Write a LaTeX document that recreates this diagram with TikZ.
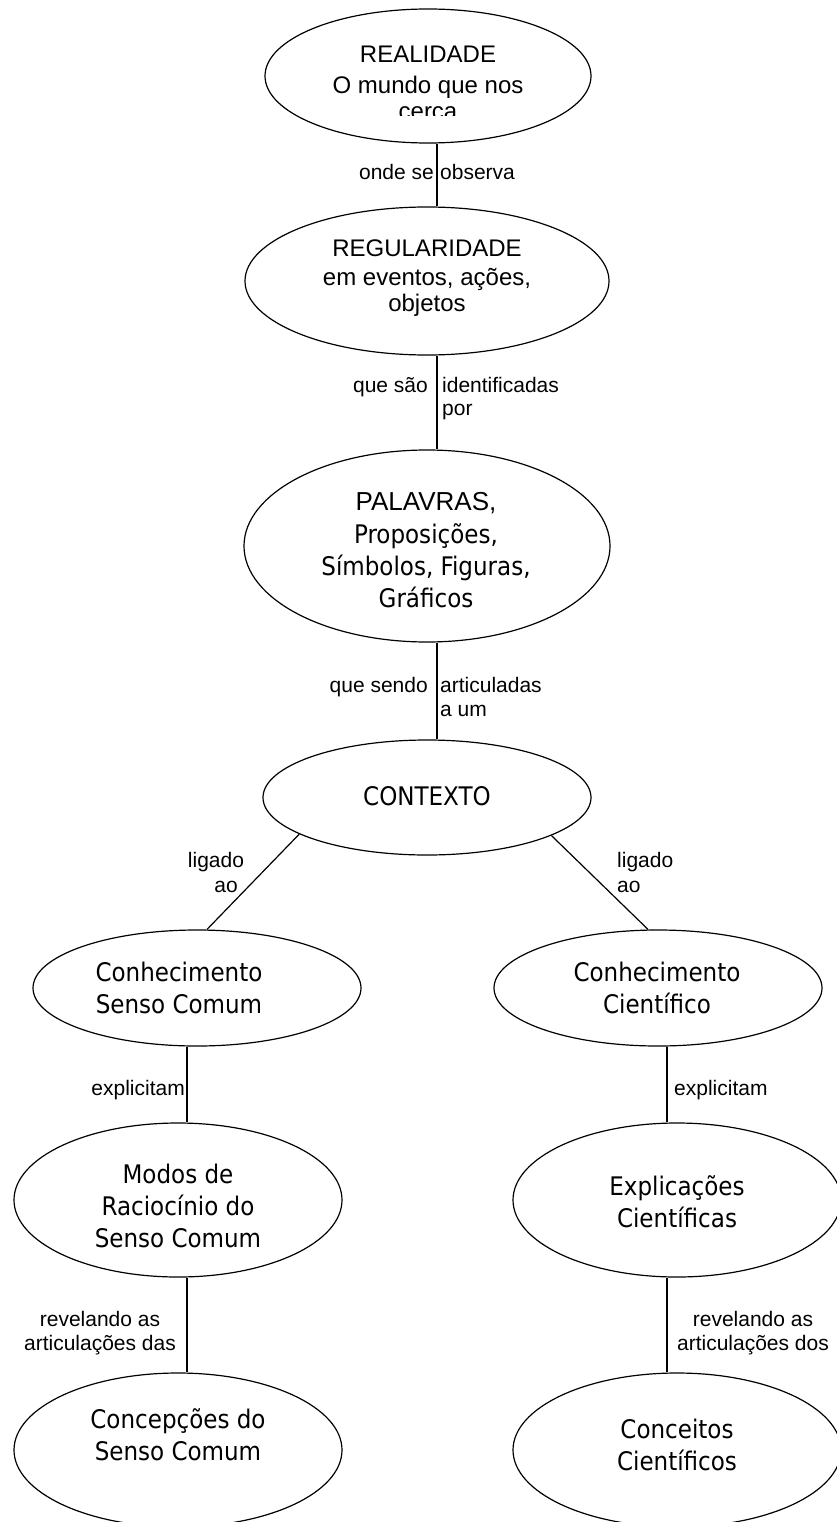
\documentclass[tikz,border=0pt]{standalone}
\usepackage{fontspec}
\setmainfont{Liberation Sans}
\newfontfamily\tahfont{DejaVu Sans Condensed}
\usetikzlibrary{shapes.geometric}
\begin{document}
\begin{tikzpicture}[x=1pt,y=-1pt,
  ell/.style={draw,ellipse,line width=1.2pt,inner sep=0pt},
  con/.style={line width=1.2pt},
  lab/.style={font=\fontsize{21}{24}\selectfont,inner sep=0pt},
  big/.style={font=\fontsize{24}{27}\selectfont,inner sep=0pt,anchor=base},
  tah/.style={font=\tahfont\fontsize{25.6}{32}\selectfont,inner sep=0pt,anchor=base}]
\useasboundingbox (0,0) rectangle (837,1522);

% ellipses
\node[ell,minimum width=326pt,minimum height=134pt] (real) at (428,76) {};
\node[ell,minimum width=364pt,minimum height=148pt] (regu) at (427,281) {};
\node[ell,minimum width=366pt,minimum height=192pt] (pala) at (427,546) {};
\node[ell,minimum width=328pt,minimum height=115pt] (cont) at (427,797.5) {};
\node[ell,minimum width=328pt,minimum height=116pt] (csc) at (197,988) {};
\node[ell,minimum width=328pt,minimum height=116pt] (cc) at (658,988) {};
\node[ell,minimum width=328pt,minimum height=154pt] (modos) at (178,1200) {};
\node[ell,minimum width=328pt,minimum height=154pt] (concep) at (178,1450) {};
\node[ell,minimum width=328pt,minimum height=154pt] (expl) at (677,1200) {};
\node[ell,minimum width=328pt,minimum height=154pt] (conc) at (677,1450) {};

% texts in ellipses
\node[big] (t1a) at (428,63) {REALIDADE};
\node[big] (t1b) at (428,94) {O mundo que nos};
\begin{scope}
\clip (300,0) rectangle (560,116);
\node[big] (t1c) at (428,120) {cerca};
\end{scope}
\node[big] (t2a) at (427,257) {REGULARIDADE};
\node[big] (t2b) at (427,285) {em eventos, ações,};
\node[big] (t2c) at (427,311) {objetos};
\node[big,font=\fontsize{26}{30}\selectfont] (t3a) at (426,510) {PALAVRAS,};
\node[tah] (t3b) at (426,543) {Proposições,};
\node[tah] (t3c) at (426,575) {Símbolos, Figuras,};
\node[tah] (t3d) at (426,607) {Gráficos};
\node[tah] (t4) at (427,805) {CONTEXTO};
\node[tah] (t5a) at (179,981) {Conhecimento};
\node[tah] (t5b) at (179,1013) {Senso Comum};
\node[tah] (t6a) at (657,981) {Conhecimento};
\node[tah] (t6b) at (657,1013) {Científico};
\node[tah] (t7a) at (178,1183) {Modos de};
\node[tah] (t7b) at (178,1215) {Raciocínio do};
\node[tah] (t7c) at (178,1247) {Senso Comum};
\node[tah] (t8a) at (178,1428) {Concepções do};
\node[tah] (t8b) at (178,1460) {Senso Comum};
\node[tah] (t9a) at (677,1195) {Explicações};
\node[tah] (t9b) at (677,1227) {Científicas};
\node[tah] (t10a) at (677,1438) {Conceitos};
\node[tah] (t10b) at (677,1470) {Científicos};

% connectors
\draw[con] ([xshift=9]real.south) -- ([xshift=10]regu.north);
\draw[con] ([xshift=10]regu.south) -- ([xshift=10]pala.north);
\draw[con] ([xshift=10]pala.south) -- ([xshift=10]cont.north);
\draw[con] (cont.196.5) -- ([xshift=10]csc.north);
\draw[con] (cont.343.5) -- ([xshift=-10]cc.north);
\draw[con] ([xshift=-10]csc.south) -- ([xshift=9]modos.north);
\draw[con] ([xshift=9]modos.south) -- ([xshift=9]concep.north);
\draw[con] ([xshift=9]cc.south) -- ([xshift=-10]expl.north);
\draw[con] ([xshift=-10]expl.south) -- ([xshift=-10]conc.north);

% labels
\node[lab,anchor=base east] (l1a) at (434,180) {onde se};
\node[lab,anchor=base west] (l1b) at (440,180) {observa};
\node[lab,anchor=base east] (l2a) at (428,392) {que são};
\node[lab,anchor=base west] (l2b) at (442,392) {identificadas};
\node[lab,anchor=base west] (l2c) at (442,415) {por};
\node[lab,anchor=base east] (l3a) at (428,692) {que sendo};
\node[lab,anchor=base west] (l3b) at (440,692) {articuladas};
\node[lab,anchor=base west] (l3c) at (440,716) {a um};
\node[lab,anchor=base] (l4a) at (216,867) {ligado};
\node[lab,anchor=base] (l4b) at (226,892) {ao};
\node[lab,anchor=base west] (l5a) at (617,867) {ligado};
\node[lab,anchor=base west] (l5b) at (617,892) {ao};
\node[lab,anchor=base east] (l6) at (185,1095) {explicitam};
\node[lab,anchor=base west] (l7) at (674,1095) {explicitam};
\node[lab,anchor=base] (l8a) at (100,1326) {revelando as};
\node[lab,anchor=base] (l8b) at (100,1350) {articulações das};
\node[lab,anchor=base] (l9a) at (753,1326) {revelando as};
\node[lab,anchor=base] (l9b) at (753,1350) {articulações dos};
\end{tikzpicture}
\end{document}
